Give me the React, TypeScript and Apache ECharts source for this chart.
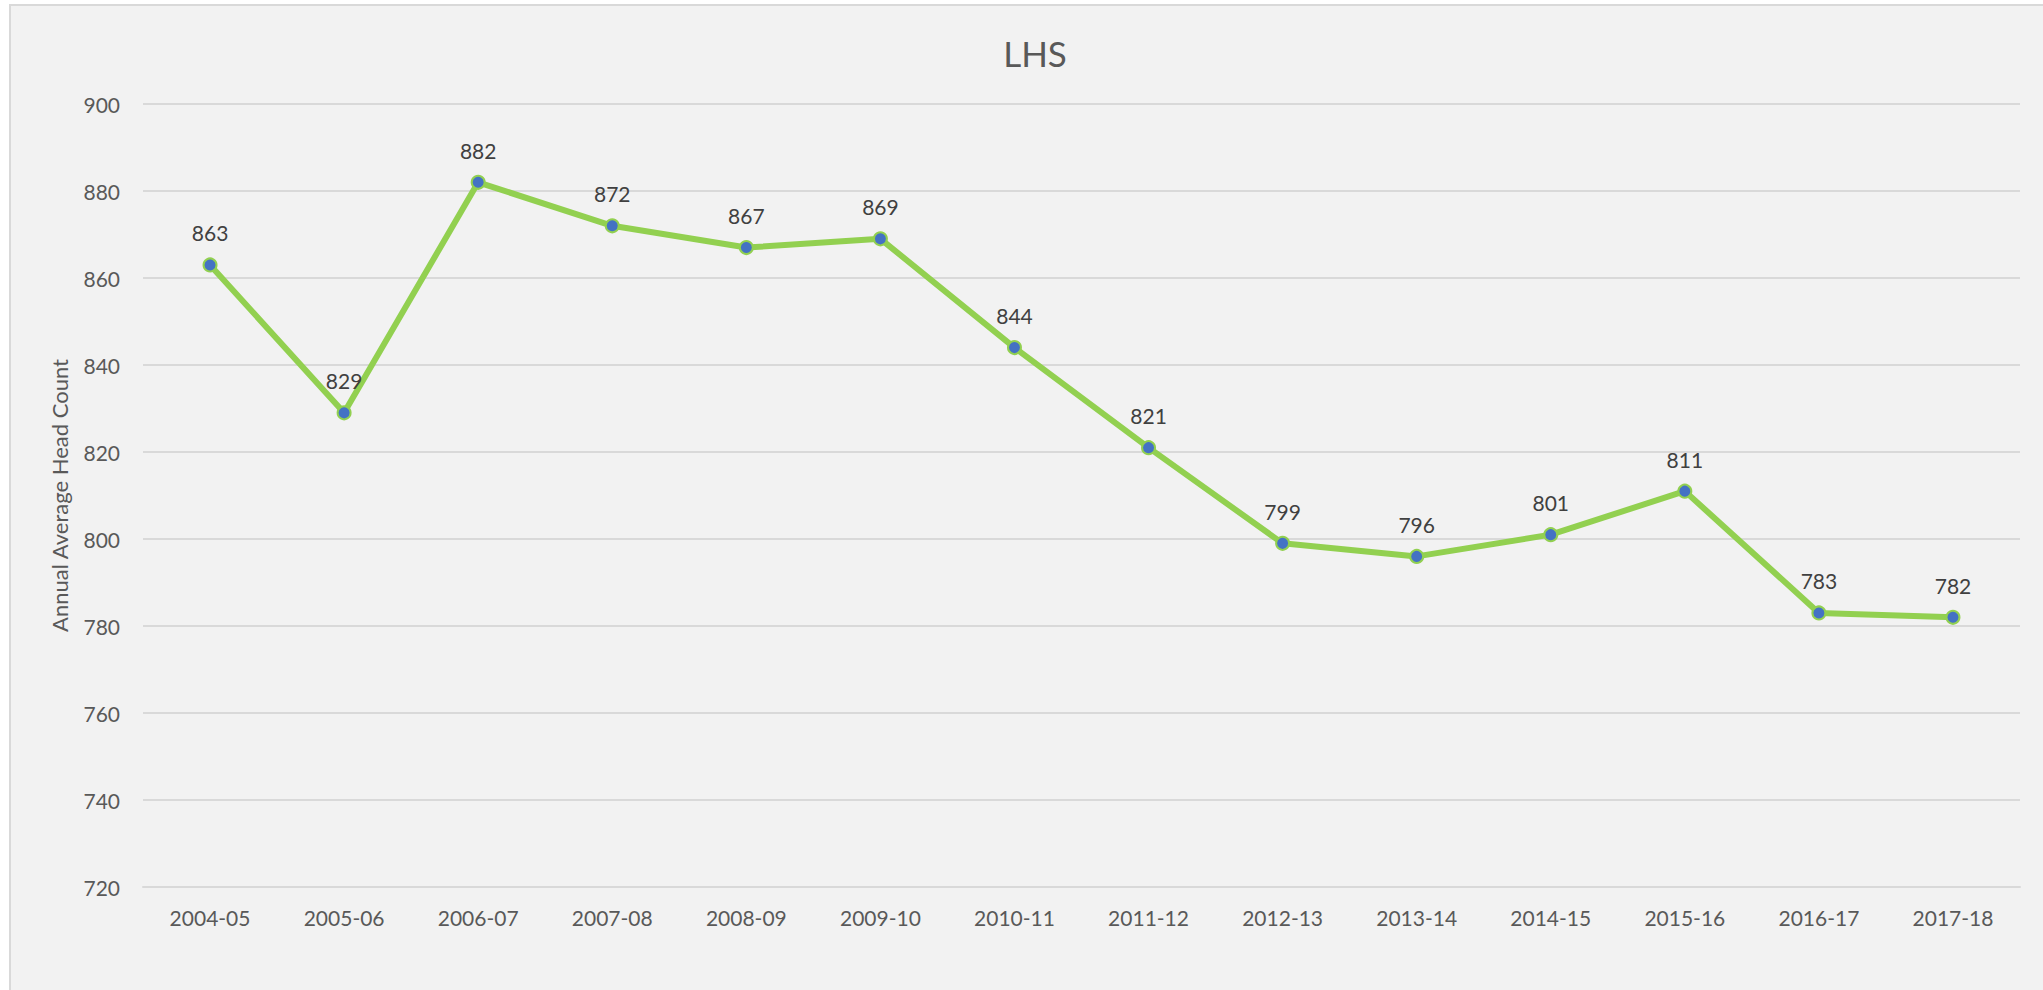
import React, { useEffect, useRef } from "react";
import * as echarts from "echarts";

const categories = [
  "2004-05", "2005-06", "2006-07", "2007-08", "2008-09", "2009-10", "2010-11",
  "2011-12", "2012-13", "2013-14", "2014-15", "2015-16", "2016-17", "2017-18",
];
const headCount = [863, 829, 882, 872, 867, 869, 844, 821, 799, 796, 801, 811, 783, 782];
const titleText = "LHS";
const yAxisName = "Annual Average Head Count";
const yMin = 720;
const yMax = 900;
const yStep = 20;

const FONT = "Lato, 'Noto Sans', sans-serif";

export default function App() {
  const ref = useRef<HTMLDivElement>(null);
  useEffect(() => {
    document.body.style.margin = "0";
    document.body.style.overflow = "hidden";
    const chart = echarts.init(ref.current!, null, { renderer: "svg" });
    chart.setOption({
      animation: false,
      backgroundColor: "#ffffff",
      textStyle: { fontFamily: FONT },
      graphic: [
        {
          type: "rect",
          z: -10,
          silent: true,
          shape: { x: 10, y: 5, width: 2100, height: 1100 },
          style: { fill: "#f2f2f2", stroke: "#d9d9d9", lineWidth: 2 },
        },
      ],
      title: {
        text: titleText,
        left: 1030,
        textAlign: "center",
        top: 30,
        textStyle: { fontFamily: FONT, fontSize: 35, fontWeight: "normal", color: "#595959" },
      },
      grid: { left: 143, right: 23, top: 104, bottom: 103, containLabel: false },
      xAxis: {
        type: "category",
        data: categories,
        boundaryGap: true,
        axisLine: { show: true, lineStyle: { color: "#d9d9d9", width: 2 } },
        axisTick: { show: false },
        axisLabel: { color: "#595959", fontSize: 21, fontFamily: FONT, margin: 20 },
        splitLine: { show: false },
      },
      yAxis: {
        type: "value",
        min: yMin,
        max: yMax,
        interval: yStep,
        name: yAxisName,
        nameLocation: "middle",
        nameGap: 73,
        nameTextStyle: { color: "#595959", fontSize: 22, fontFamily: FONT },
        axisLine: { show: false },
        axisTick: { show: false },
        axisLabel: { color: "#595959", fontSize: 21, fontFamily: FONT, margin: 23 },
        splitLine: { show: true, lineStyle: { color: "#d9d9d9", width: 2 } },
      },
      series: [
        {
          type: "line",
          data: headCount,
          symbol: "circle",
          symbolSize: 13,
          lineStyle: { color: "#92d050", width: 6 },
          itemStyle: { color: "#4472c4", borderColor: "#92d050", borderWidth: 2 },
          label: {
            show: true,
            position: "top",
            distance: 14,
            color: "#404040",
            fontSize: 21,
            fontFamily: FONT,
          },
        },
      ],
    });
    return () => chart.dispose();
  }, []);
  return (
    <div
      ref={ref}
      style={{ position: "absolute", left: 0, top: 0, width: 2043, height: 990 }}
    />
  );
}
